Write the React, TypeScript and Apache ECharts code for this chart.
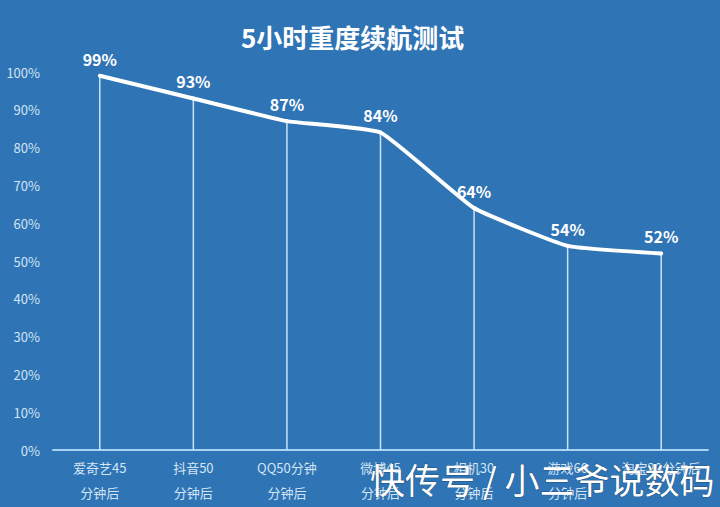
import React, { useEffect, useRef } from "react";
import * as echarts from "echarts";

const categories = [
  "爱奇艺45\n分钟后",
  "抖音50\n分钟后",
  "QQ50分钟\n分钟后",
  "微博45\n分钟后",
  "相机30\n分钟后",
  "游戏60\n分钟后",
  "淘宝20分钟后",
];
const batteryValues = [99, 93, 87, 84, 64, 54, 52];
const yTicks = { min: 0, max: 100, interval: 10 };
const titleText = "5小时重度续航测试";
const watermarkText = "快传号 / 小三爷说数码";

export default function App() {
  const ref = useRef<HTMLDivElement>(null);
  useEffect(() => {
    if (!ref.current) return;
    const chart = echarts.init(ref.current, null, { renderer: "svg" });
    const font = '"Noto Sans CJK SC", "Noto Sans", sans-serif';
    chart.setOption({
      animation: false,
      backgroundColor: "#2f74b5",
      textStyle: { fontFamily: font },
      title: {
        text: titleText,
        left: 236,
        top: 18,
        textStyle: { color: "#ffffff", fontSize: 26, fontWeight: "bold", fontFamily: font },
      },
      grid: { left: 53, right: 12, top: 72, bottom: 57, containLabel: false },
      xAxis: {
        type: "category",
        data: categories,
        boundaryGap: true,
        axisTick: { show: false },
        axisLine: { show: true, lineStyle: { color: "#a9d3f2", width: 2 } },
        axisLabel: {
          color: "#d3e4f4",
          fontSize: 13,
          lineHeight: 25,
          margin: 5,
          interval: 0,
          fontFamily: font,
        },
        splitLine: { show: false },
      },
      yAxis: {
        type: "value",
        min: yTicks.min,
        max: yTicks.max,
        interval: yTicks.interval,
        axisLine: { show: false },
        axisTick: { show: false },
        splitLine: { show: false },
        axisLabel: {
          formatter: "{value}%",
          color: "#d3e4f4",
          fontSize: 13,
          margin: 13,
          fontFamily: font,
        },
      },
      series: [
        {
          type: "bar",
          data: batteryValues,
          barWidth: 1.5,
          itemStyle: { color: "#c9e3f7" },
          z: 1,
          silent: true,
        },
        {
          type: "line",
          data: batteryValues,
          smooth: 0.12,
          symbol: "circle",
          symbolSize: 4,
          showSymbol: true,
          itemStyle: { color: "#ffffff" },
          lineStyle: { color: "#ffffff", width: 4 },
          z: 3,
          label: {
            show: true,
            position: "top",
            distance: 7,
            formatter: "{c}%",
            color: "#ffffff",
            fontSize: 16,
            fontWeight: "bold",
            fontFamily: font,
          },
        },
      ],
      graphic: [
        {
          type: "text",
          right: 5,
          top: 460,
          z: 100,
          style: {
            text: watermarkText,
            fill: "#ffffff",
            fontSize: 35,
            fontFamily: font,
            stroke: "rgba(0,0,0,0.35)",
            lineWidth: 1,
          },
        },
      ],
    });
    return () => chart.dispose();
  }, []);
  return (
    <div
      ref={ref}
      style={{ position: "fixed", left: 0, top: 0, width: 720, height: 507 }}
    />
  );
}
